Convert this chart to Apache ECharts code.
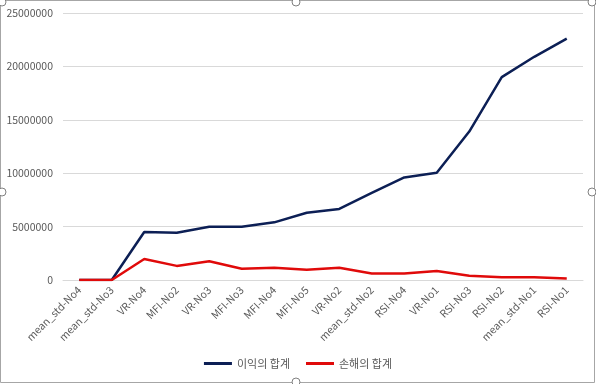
<!DOCTYPE html>
<html><head><meta charset="utf-8">
<script src="https://cdn.jsdelivr.net/npm/echarts@6/dist/echarts.min.js"></script>
<style>html,body{margin:0;padding:0;background:#fff}#c{width:596px;height:384px}</style>
</head><body><div id="c"></div>
<script>
const categories = ['mean_std-No4','mean_std-No3','VR-No4','MFI-No2','VR-No3','MFI-No3','MFI-No4','MFI-No5','VR-No2','mean_std-No2','RSI-No4','VR-No1','RSI-No3','RSI-No2','mean_std-No1','RSI-No1'];
const profit = [0, 0, 4500000, 4420000, 4980000, 4980000, 5400000, 6300000, 6650000, 8150000, 9600000, 10050000, 13900000, 19000000, 20900000, 22600000];
const loss = [0, 0, 1970000, 1320000, 1760000, 1050000, 1150000, 950000, 1150000, 600000, 600000, 850000, 400000, 250000, 250000, 150000];
const seriesNames = ['이익의 합계', '손해의 합계'];
const font = '"Noto Sans CJK KR", "Noto Sans", sans-serif';
const chart = echarts.init(document.getElementById('c'));
chart.setOption({
  animation: false,
  textStyle: {fontFamily: font},
  grid: {left: 63, right: 13, top: 13, bottom: 104},
  legend: {
    bottom: 10, left: 'center', itemWidth: 28, itemHeight: 3, itemGap: 16,
    icon: 'rect',
    textStyle: {color: '#595959', fontSize: 11, fontFamily: font},
    data: seriesNames
  },
  xAxis: {
    type: 'category', data: categories, boundaryGap: true,
    axisLine: {lineStyle: {color: '#d9d9d9'}},
    axisTick: {show: false},
    axisLabel: {rotate: 45, interval: 0, color: '#595959', fontSize: 10.5, fontFamily: font, margin: 8}
  },
  yAxis: {
    type: 'value', min: 0, max: 25000000, interval: 5000000,
    axisLine: {show: false}, axisTick: {show: false},
    splitLine: {lineStyle: {color: '#d9d9d9'}},
    axisLabel: {color: '#595959', fontSize: 10.5, fontFamily: font, margin: 10, formatter: v => String(v)}
  },
  series: [
    {name: seriesNames[0], type: 'line', data: profit, symbol: 'none', lineStyle: {color: '#0c1f55', width: 2.5}, itemStyle: {color: '#0c1f55'}, z: 2},
    {name: seriesNames[1], type: 'line', data: loss, symbol: 'none', lineStyle: {color: '#e00a0a', width: 2.5}, itemStyle: {color: '#e00a0a'}, z: 3}
  ],
  graphic: [
    {type: 'rect', shape: {x: 0.5, y: 0.5, width: 594, height: 382}, style: {fill: 'none', stroke: '#a6a6a6', lineWidth: 1}, silent: true},
    {type: 'circle', shape: {cx: 2, cy: 2, r: 4}, style: {fill: '#fff', stroke: '#808080'}},
    {type: 'circle', shape: {cx: 296, cy: 2, r: 4}, style: {fill: '#fff', stroke: '#808080'}},
    {type: 'circle', shape: {cx: 592, cy: 2, r: 4}, style: {fill: '#fff', stroke: '#808080'}},
    {type: 'circle', shape: {cx: 2, cy: 192, r: 4}, style: {fill: '#fff', stroke: '#808080'}},
    {type: 'circle', shape: {cx: 592, cy: 192, r: 4}, style: {fill: '#fff', stroke: '#808080'}},
    {type: 'circle', shape: {cx: 296, cy: 382, r: 4}, style: {fill: '#fff', stroke: '#808080'}}
  ]
});
</script></body></html>
